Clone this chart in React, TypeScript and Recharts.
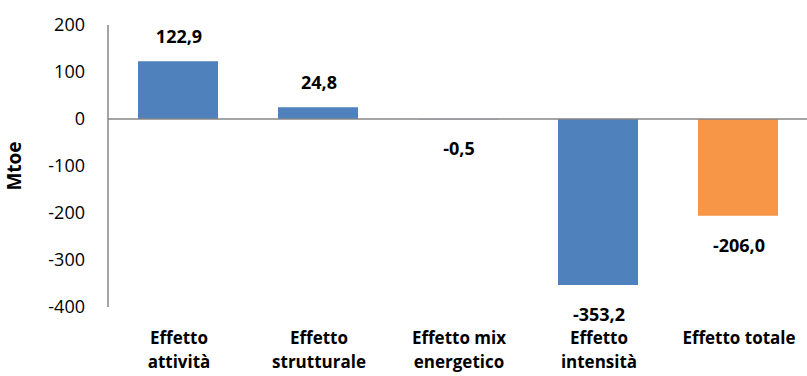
import React from 'react';
import { BarChart, Bar, XAxis, YAxis, ReferenceLine, Cell, LabelList } from 'recharts';

const categories = [
  ['Effetto', 'attività'],
  ['Effetto', 'strutturale'],
  ['Effetto mix', 'energetico'],
  ['Effetto', 'intensità'],
  ['Effetto totale'],
];
const values = [122.9, 24.8, -0.5, -353.2, -206.0];
const valueLabels = ['122,9', '24,8', '-0,5', '-353,2', '-206,0'];
const yTicks = [-400, -300, -200, -100, 0, 100, 200];

const BLUE = '#4f81bd';
const ORANGE = '#f79646';
const FONT = '"Open Sans", "Liberation Sans", sans-serif';

const data = categories.map((lines, i) => ({
  name: lines.join(' '),
  value: values[i],
  label: valueLabels[i],
  idx: i,
}));

const XTick = (props: any) => {
  const { x, payload } = props;
  const lines = categories[payload.index] ?? [payload.value];
  return (
    <text x={x + 1} y={344} textAnchor="middle" fontFamily={FONT} fontWeight="bold" fontSize={17} fill="#000">
      {lines.map((l: string, i: number) => (
        <tspan key={i} x={x + 1} dy={i === 0 ? 0 : 24}>{l}</tspan>
      ))}
    </text>
  );
};

const YTick = (props: any) => {
  const { y, payload } = props;
  return (
    <text x={85} y={y} dy={6} textAnchor="end" fontFamily={FONT} fontSize={18} fill="#000">
      {payload.value}
    </text>
  );
};

const ValueLabel = (props: any) => {
  const { x, y, width, height, index } = props;
  const top = Math.min(y, y + height);
  const bottom = Math.max(y, y + height);
  const v = values[index];
  const ty = v >= 0 ? top - 18 : bottom + 36;
  return (
    <text x={x + width / 2 + 1} y={ty} textAnchor="middle" fontFamily={FONT} fontWeight="bold" fontSize={18} fill="#000">
      {valueLabels[index]}
    </text>
  );
};

export default function App() {
  return (
    <div style={{ position: 'absolute', left: 0, top: 0, background: '#fff' }}>
      <BarChart
        width={808}
        height={376}
        data={data}
        margin={{ top: 25, right: 0, left: 0, bottom: 0 }}
        barSize={80}
      >
        <XAxis
          dataKey="name"
          axisLine={false}
          tickLine={false}
          height={69}
          interval={0}
          tick={<XTick />}
        />
        <YAxis
          width={108}
          domain={[-400, 200]}
          ticks={yTicks}
          interval={0}
          axisLine={{ stroke: '#868686', strokeWidth: 1.5 }}
          tickLine={false}
          tick={<YTick />}
          label={{
            value: 'Mtoe',
            angle: -90,
            position: 'insideLeft',
            offset: 0,
            dx: 14,
            style: { fontFamily: FONT, fontWeight: 'bold', fontSize: 19, fill: '#000', textAnchor: 'middle' },
          }}
        />
        <ReferenceLine y={0} stroke="#868686" strokeWidth={1.5} />
        <Bar dataKey="value" isAnimationActive={false}>
          {data.map((d, i) => (
            <Cell key={i} fill={i === data.length - 1 ? ORANGE : BLUE} />
          ))}
          <LabelList dataKey="label" content={<ValueLabel />} />
        </Bar>
      </BarChart>
    </div>
  );
}
